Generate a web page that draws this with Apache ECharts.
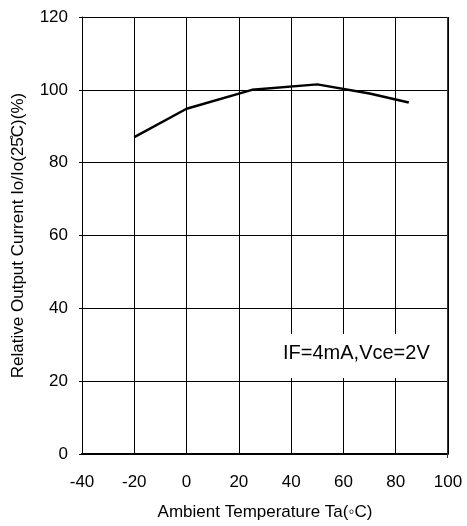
<!DOCTYPE html>
<html>
<head>
<meta charset="utf-8">
<script src="https://cdn.jsdelivr.net/npm/echarts@6/dist/echarts.min.js"></script>
<style>
  html, body { margin: 0; padding: 0; background: #fff; }
  #chart { width: 467px; height: 526px; }
</style>
</head>
<body>
<div id="chart"></div>
<script>
// Relative output current vs ambient temperature
const temperatures = [-20, 0, 25, 50, 70, 85];
const relativeCurrent = [87, 94.8, 100, 101.5, 99, 96.5];
const xTicks = { min: -40, max: 100, interval: 20 };
const yTicks = { min: 0, max: 120, interval: 20 };
const conditionText = 'IF=4mA,Vce=2V';

const font = '"Liberation Sans", Arial, sans-serif';
const chart = echarts.init(document.getElementById('chart'), null, { renderer: 'canvas' });

const plot = { left: 82, right: 19, top: 17, bottom: 68 };

chart.setOption({
  backgroundColor: '#fff',
  animation: false,
  grid: plot,
  xAxis: {
    type: 'value',
    min: xTicks.min, max: xTicks.max, interval: xTicks.interval,
    name: 'Ambient Temperature Ta(\u25E6C)',
    nameLocation: 'middle',
    nameGap: 50,
    nameTextStyle: { fontFamily: font, fontSize: 17, color: '#000' },
    axisLine: { onZero: false, lineStyle: { color: '#000', width: 2 } },
    axisTick: { show: false },
    axisLabel: { fontFamily: font, fontSize: 17, color: '#000', margin: 20 },
    splitLine: { show: true, lineStyle: { color: '#000', width: 1 } }
  },
  yAxis: {
    type: 'value',
    min: yTicks.min, max: yTicks.max, interval: yTicks.interval,
    name: 'Relative Output Current Io/Io(25\u030AC)(%)',
    nameLocation: 'middle',
    nameGap: 55,
    nameTextStyle: { fontFamily: font, fontSize: 17, color: '#000' },
    axisLine: { show: true, onZero: false, lineStyle: { color: '#000', width: 1 } },
    axisTick: { show: true, length: 3, lineStyle: { color: '#000' } },
    axisLabel: { fontFamily: font, fontSize: 17, color: '#000', margin: 14 },
    splitLine: { show: true, lineStyle: { color: '#000', width: 1 } }
  },
  graphic: [
    {
      type: 'rect',
      shape: { x: 272, y: 334, width: 170, height: 44 },
      style: { fill: '#fff' },
      z: 10
    },
    {
      type: 'text',
      x: 283, y: 353,
      style: {
        text: conditionText,
        font: '20px ' + font,
        fill: '#000',
        verticalAlign: 'middle'
      },
      z: 11
    },
    {
      // top frame edge
      type: 'line',
      shape: { x1: 82, y1: 17.5, x2: 448, y2: 17.5 },
      style: { stroke: '#000', lineWidth: 1 },
      z: 12
    },
    {
      // right frame edge
      type: 'line',
      shape: { x1: 447.5, y1: 17, x2: 447.5, y2: 458 },
      style: { stroke: '#333', lineWidth: 1 },
      z: 12
    }
  ],
  series: [{
    type: 'line',
    data: temperatures.map((t, i) => [t, relativeCurrent[i]]),
    showSymbol: false,
    lineStyle: { color: '#000', width: 2.5 },
    z: 5
  }]
});
</script>
</body>
</html>
